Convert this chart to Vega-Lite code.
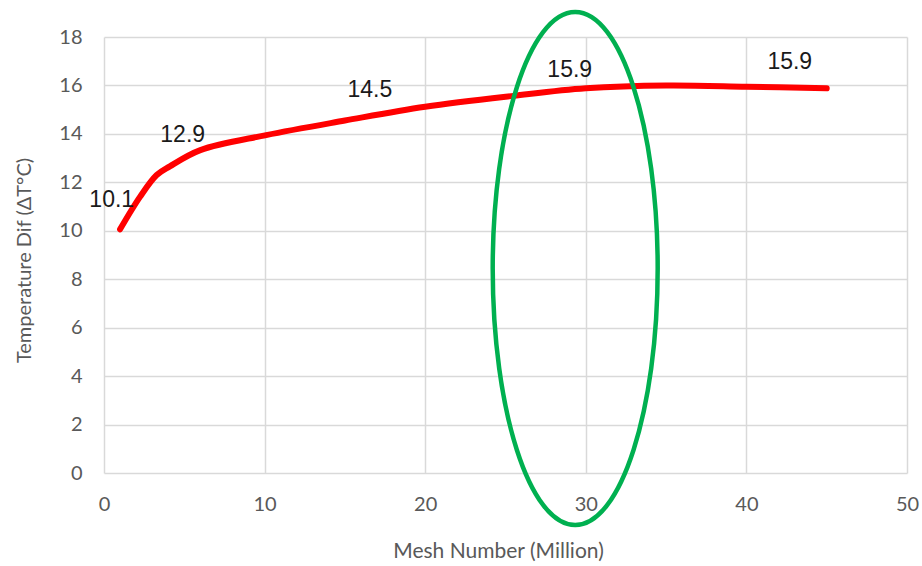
{
  "$schema": "https://vega.github.io/schema/vega-lite/v6.json",
  "autosize": {"type": "none"},
  "padding": {"left": 104, "top": 37, "right": 15, "bottom": 93},
  "width": 803,
  "height": 436,
  "background": "white",
  "config": {"view": {"stroke": null}},
  "datasets": {
    "curve": [
      {"mesh": 1.0, "temp": 10.06},
      {"mesh": 2.24, "temp": 11.4},
      {"mesh": 3.28, "temp": 12.3},
      {"mesh": 4.1, "temp": 12.66},
      {"mesh": 6.0, "temp": 13.33},
      {"mesh": 10.1, "temp": 13.95},
      {"mesh": 15.0, "temp": 14.55},
      {"mesh": 20.0, "temp": 15.12},
      {"mesh": 25.5, "temp": 15.57},
      {"mesh": 30.0, "temp": 15.88},
      {"mesh": 35.0, "temp": 16.0},
      {"mesh": 40.0, "temp": 15.95},
      {"mesh": 45.0, "temp": 15.88}
    ],
    "labels": [
      {"mesh": 0.48, "temp": 11.27, "label": "10.1"},
      {"mesh": 4.9, "temp": 13.95, "label": "12.9"},
      {"mesh": 16.55, "temp": 15.81, "label": "14.5"},
      {"mesh": 29.0, "temp": 16.64, "label": "15.9"},
      {"mesh": 42.7, "temp": 16.98, "label": "15.9"}
    ],
    "highlight": [
      {"mesh": 29.34, "temp": 8.44}
    ]
  },
  "encoding": {
    "x": {
      "field": "mesh", "type": "quantitative",
      "scale": {"domain": [0, 50], "nice": false},
      "axis": {
        "title": "Mesh Number (Million)",
        "values": [0, 10, 20, 30, 40, 50],
        "domain": false, "ticks": false,
        "grid": true, "gridColor": "#d9d9d9", "gridWidth": 1.5,
        "labelFont": "Lato", "labelFontSize": 20, "labelColor": "#595959",
        "labelPadding": 21, "labelFlush": false,
        "titleFont": "Lato", "titleFontSize": 21, "titleFontWeight": "normal", "titleColor": "#595959",
        "titleX": 394, "titleY": 78, "titleBaseline": "middle", "titleAlign": "center"
      }
    },
    "y": {
      "field": "temp", "type": "quantitative",
      "scale": {"domain": [0, 18], "nice": false},
      "axis": {
        "title": "Temperature Dif (ΔT°C)",
        "values": [0, 2, 4, 6, 8, 10, 12, 14, 16, 18],
        "domain": false, "ticks": false,
        "grid": true, "gridColor": "#d9d9d9", "gridWidth": 1.5,
        "labelFont": "Lato", "labelFontSize": 20, "labelColor": "#595959",
        "labelPadding": 22,
        "titleFont": "Lato", "titleFontSize": 20, "titleFontWeight": "normal", "titleColor": "#595959",
        "titleX": -80, "titleY": 223, "titleAngle": -90, "titleBaseline": "middle", "titleAlign": "center"
      }
    }
  },
  "layer": [
    {
      "data": {"name": "curve"},
      "mark": {"type": "line", "color": "#ff0000", "strokeWidth": 6, "interpolate": "catmull-rom", "strokeCap": "round", "strokeJoin": "round"}
    },
    {
      "data": {"name": "labels"},
      "mark": {"type": "text", "font": "Liberation Sans", "fontSize": 23, "color": "#1a1a1a", "align": "center", "baseline": "middle"},
      "encoding": {"text": {"field": "label"}}
    },
    {
      "data": {"name": "highlight"},
      "mark": {
        "type": "point",
        "shape": "M -0.3216 0 A 0.3216 1 0 1 1 0.3216 0 A 0.3216 1 0 1 1 -0.3216 0 Z",
        "size": 263169,
        "filled": false,
        "stroke": "#00b050",
        "strokeWidth": 4.5,
        "opacity": 1
      }
    }
  ]
}
